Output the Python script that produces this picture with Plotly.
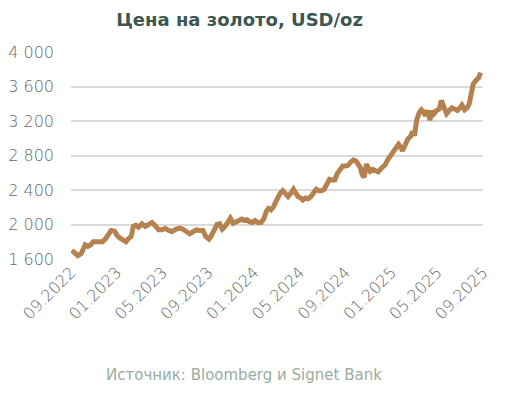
import plotly.graph_objects as go

# months since 09.2022 and gold price, USD/oz
months = [0.07, 0.31, 0.60, 0.89, 1.06, 1.24, 1.47, 1.71, 1.94, 2.35, 2.76, 2.99, 3.28, 3.51,
          3.81, 4.04, 4.33, 4.56, 4.80, 5.03, 5.26, 5.44, 5.67, 5.90, 6.20, 6.49, 6.78, 7.07,
          7.36, 7.65, 7.95, 8.24, 8.53, 8.82, 9.20, 9.49, 9.78, 10.07, 10.37, 10.66, 10.95,
          11.24, 11.53, 11.77, 12.06, 12.23, 12.47, 12.76, 12.99, 13.22, 13.46, 13.69, 13.92,
          14.16, 14.39, 14.68, 14.92, 15.15, 15.38, 15.62, 15.85, 16.08, 16.32, 16.61, 16.84,
          17.07, 17.25, 17.48, 17.71, 17.89, 18.03, 18.27, 18.50, 18.68, 18.97, 19.20, 19.44,
          19.61, 19.84, 20.08, 20.25, 20.49, 20.72, 20.95, 21.19, 21.42, 21.65, 21.89, 22.12,
          22.35, 22.58, 22.82, 23.05, 23.28, 23.52, 23.75, 23.98, 24.22, 24.45, 24.68, 24.92,
          25.09, 25.27, 25.44, 25.62, 25.80, 26.00, 26.14, 26.38, 26.61, 26.84, 27.08, 27.22,
          27.45, 27.69, 27.92, 28.15, 28.39, 28.62, 28.80, 28.97, 29.20, 29.44, 29.67, 29.85,
          30.02, 30.20, 30.43, 30.61, 30.78, 30.96, 31.19, 31.36, 31.54, 31.71, 31.95, 32.18,
          32.36, 32.59, 32.82, 33.06, 33.29, 33.52, 33.76, 33.99, 34.16, 34.40, 34.63, 34.80,
          34.98, 35.15, 35.38, 35.62, 35.79]
price = [1700, 1662, 1638, 1662, 1708, 1765, 1746, 1762, 1800, 1800, 1800, 1831, 1900, 1931,
         1923, 1869, 1838, 1823, 1800, 1838, 1862, 1977, 1992, 1969, 2008, 1977, 2000, 2023,
         1985, 1938, 1938, 1954, 1931, 1919, 1946, 1958, 1946, 1915, 1892, 1915, 1938,
         1931, 1931, 1862, 1831, 1862, 1938, 2000, 2008, 1946, 1977, 2015, 2073,
         2015, 2031, 2054, 2062, 2046, 2054, 2031, 2023, 2046, 2023, 2023, 2062,
         2154, 2185, 2169, 2208, 2262, 2310, 2361, 2392, 2369, 2323, 2361, 2408,
         2369, 2323, 2307, 2284, 2307, 2299, 2323, 2377, 2408, 2392, 2392, 2408,
         2477, 2524, 2516, 2516, 2594, 2640, 2679, 2679, 2686, 2725, 2748, 2733,
         2694, 2663, 2578, 2547, 2700, 2640, 2617, 2640, 2617, 2609, 2648, 2662,
         2692, 2754, 2800, 2862, 2892, 2931, 2900, 2854, 2923, 2992, 3023, 3077,
         3031, 3208, 3300, 3331, 3308, 3262, 3323, 3208, 3315, 3285, 3323, 3338,
         3438, 3362, 3285, 3323, 3354, 3338, 3323, 3354, 3385, 3331, 3354, 3400,
         3554, 3631, 3669, 3700, 3762]

tick_pos = [0, 4, 8, 12, 16, 20, 24, 28, 32, 36]
tick_labels = ["09.2022", "01.2023", "05.2023", "09.2023", "01.2024", "05.2024",
               "09.2024", "01.2025", "05.2025", "09.2025"]
y_ticks = [1600, 2000, 2400, 2800, 3200, 3600, 4000]

FONT = "DejaVu Sans"

fig = go.Figure()
fig.add_trace(go.Scatter(x=months, y=price, mode="lines",
                         line=dict(color="#b5814f", width=5, shape="linear"),
                         hoverinfo="skip"))

fig.update_layout(
    width=510, height=393,
    margin=dict(l=63, r=35, t=44, b=142, autoexpand=False),
    paper_bgcolor="white", plot_bgcolor="white",
    showlegend=False,
    separators=". ",
    font=dict(family=FONT, color="#666666", size=13),
    title=dict(text="<b>Цена на золото, USD/oz</b>", x=0.454, xanchor="center",
               y=0.969, yanchor="middle",
               font=dict(family=FONT, size=18, color="#3d5750")),
    xaxis=dict(range=[0, 36], tickvals=tick_pos, ticktext=tick_labels, tickangle=-45,
               showgrid=False, zeroline=False, showline=False, ticks="",
               automargin=False,
               tickfont=dict(family=FONT, size=16, color="#666666", weight=300)),
    yaxis=dict(range=[1600, 4000], tickvals=y_ticks, tickformat=",d",
               showgrid=True, gridcolor="#dadada", gridwidth=2, zeroline=False,
               showline=False, ticks="", ticklabelstandoff=16, automargin=False,
               tickfont=dict(family=FONT, size=16, color="#666666", weight=300)),
    annotations=[dict(text="Источник: Bloomberg и Signet Bank",
                      xref="paper", yref="paper", showarrow=False,
                      x=0.4187, xanchor="center",
                      y=-0.560, yanchor="middle",
                      font=dict(family=FONT, size=15, color="#9aaba3"))],
)

fig.write_html("out.html")
